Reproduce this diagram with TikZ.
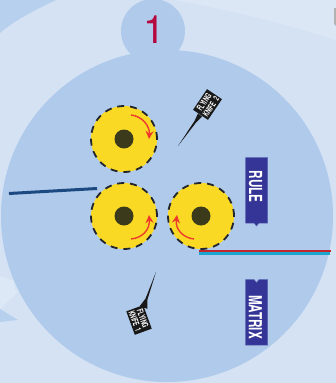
\documentclass[tikz,border=0pt]{standalone}
\usepackage{fontspec}
\setmainfont{TeX Gyre Heros}
\newfontfamily\narrowfont[FakeStretch=0.65]{TeX Gyre Heros Bold}
\newfontfamily\tinyfont[FakeStretch=0.62]{TeX Gyre Heros Bold}
\usetikzlibrary{arrows.meta,shapes.geometric}
\definecolor{bgpale}{HTML}{D4E2F4}
\definecolor{bgmid}{HTML}{DDE8F6}
\definecolor{bandblue}{HTML}{B7D0EE}
\definecolor{discblue}{HTML}{AFCAEB}
\definecolor{rollyellow}{HTML}{F9D923}
\definecolor{hubdark}{HTML}{3B3A1A}
\definecolor{dashdark}{HTML}{23262E}
\definecolor{arrowred}{HTML}{EE3B2C}
\definecolor{labelblue}{HTML}{343596}
\definecolor{wirenavy}{HTML}{1C4A80}
\definecolor{wirered}{HTML}{C4262E}
\definecolor{wirecyan}{HTML}{1CA5CE}
\definecolor{numcrimson}{HTML}{B5083F}
\tikzset{
  roller/.style={circle,minimum size=66pt,inner sep=0pt,fill=rollyellow,draw=dashdark,line width=1.8pt,dash pattern=on 7pt off 5.9pt},
  hub/.style={circle,minimum size=19pt,inner sep=0pt,fill=hubdark},
  spinarrow/.style={draw=arrowred,line width=1.4pt,-{Stealth[length=8pt,width=8pt]}},
  tag/.style={fill=labelblue,draw=labelblue!70!discblue,line width=.5pt},
  tagtext/.style={text=white,font=\narrowfont\fontsize{18}{18}\selectfont,rotate=-90,inner sep=0pt},
  kniferect/.style={fill=black!90,text=white,inner sep=0pt,align=center,font=\tinyfont\fontsize{8.6}{8.2}\selectfont,minimum width=25pt,minimum height=18pt,text width=25pt},
  wire/.style={line width=2.6pt}
}
\begin{document}
\begin{tikzpicture}[x=1pt,y=-1pt]
\useasboundingbox (0,0) rectangle (336,383);
\fill[bgpale] (0,0) rectangle (336,383);
% backdrop
\fill[bandblue] (0,0) -- (56,0) .. controls (35,10) and (15,20) .. (0,33) -- cycle;
\fill[bgmid] (0,276) -- (14,281) -- (15,290) -- (19,291) -- (0,309) -- cycle;
\fill[bandblue] (0,309) -- (18,320) -- (0,322) -- cycle;
\fill[white!18!bgpale] (175,0) -- (336,0) -- (336,40) .. controls (290,25) and (230,10) .. (175,0) -- cycle;
\fill[gray!60] (334,8) -- (336,8) -- (336,26) -- (334,24) -- cycle;
% discs
\fill[discblue] (167,216) circle[radius=166];
\fill[discblue] (153,31) circle[radius=32];
\node[text=numcrimson,font=\fontsize{39}{39}\selectfont,inner sep=0pt] (num) at (154,30) {1};
% rollers
\node[roller] (r1) at (124,139) {};
\node[roller] (r2) at (124,216) {};
\node[roller] (r3) at (201,216) {};
\node[hub] at (r1) {};
\node[hub] at (r2) {};
\node[hub] at (r3) {};
\draw[spinarrow] (131,115) .. controls (142,116) and (150,126) .. (149,139);
\draw[spinarrow] (131,239) .. controls (142,238) and (150,230) .. (149,215);
\draw[spinarrow] (194,239) .. controls (184,238) and (175,230) .. (177,215);
% wires
\draw[wirenavy,line width=3pt] (9,193.5) -- (97,188.5);
\draw[wirecyan,wire] (199,253.6) -- (330,253.6);
\draw[wirered,line width=2pt] (199,250.8) -- (331,250.8);
% tags
\path[tag,draw] (245.5,157.5) -- (267.5,157.5) -- (267.5,223) -- (259,223) -- (256.5,226) -- (254,223) -- (245.5,223) -- cycle;
\node[tagtext] (rule) at (255.5,186.5) {RULE};
\path[tag,draw] (245.5,279.5) -- (254,279.5) -- (256.5,282.5) -- (259,279.5) -- (267.5,279.5) -- (267.5,345) -- (245.5,345) -- cycle;
\node[tagtext] (matrix) at (255.5,317) {MATRIX};
% knives
\node[kniferect,rotate=56] (k2) at (207.5,104.5) {FLYING\\KNIFE 2};
\fill[black!90] (198,113.5) -- (194.5,121) -- (178,146) -- (196.3,122.2) -- (202,116.5) -- cycle;
\node[kniferect,rotate=-70] (k1) at (139,320) {FLYING\\KNIFE 1};
\fill[black!90] (139.7,306.2) -- (145.5,298.6) -- (156,272) -- (147.5,299.4) -- (147.3,308.8) -- cycle;
\end{tikzpicture}
\end{document}
